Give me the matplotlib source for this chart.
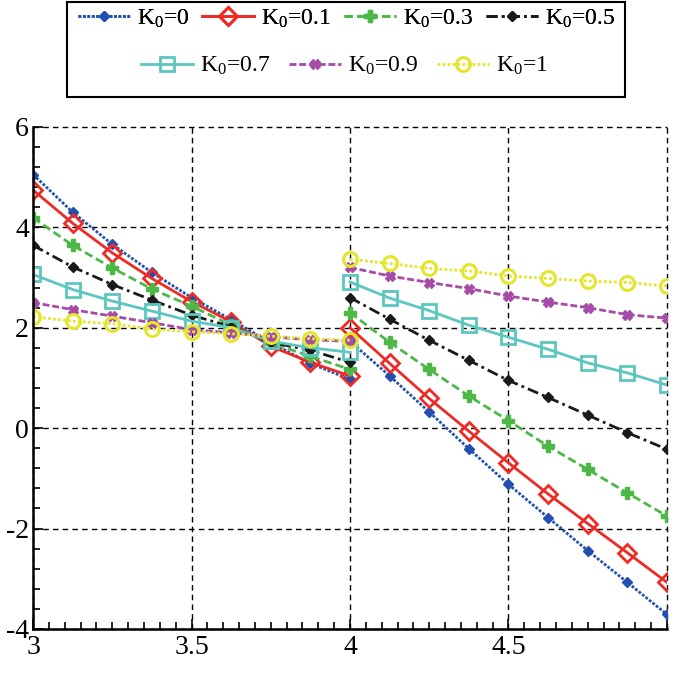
import numpy as np
import matplotlib
matplotlib.use('Agg')
import matplotlib.pyplot as plt
from matplotlib.ticker import MultipleLocator
from matplotlib.patches import Rectangle

plt.rcParams['font.family'] = ['Liberation Serif', 'DejaVu Serif']
plt.rcParams['mathtext.fontset'] = 'custom'
plt.rcParams['mathtext.rm'] = 'Liberation Serif'
plt.rcParams['mathtext.it'] = 'Liberation Serif:italic'

# x positions of the two segments
x_left = [3, 3.125, 3.25, 3.375, 3.5, 3.625, 3.75, 3.875, 4]
x_right = [4, 4.125, 4.25, 4.375, 4.5, 4.625, 4.75, 4.875, 5]

labels = ['K$_0$=0', 'K$_0$=0.1', 'K$_0$=0.3', 'K$_0$=0.5', 'K$_0$=0.7', 'K$_0$=0.9', 'K$_0$=1']

# values, left segment (3..4)
k00_left = [5.05, 4.30, 3.66, 3.10, 2.60, 2.16, 1.70, 1.29, 0.97]
k01_left = [4.74, 4.08, 3.49, 2.98, 2.52, 2.12, 1.63, 1.31, 1.04]
k03_left = [4.19, 3.64, 3.19, 2.77, 2.43, 2.05, 1.70, 1.43, 1.17]
k05_left = [3.64, 3.21, 2.86, 2.55, 2.25, 2.02, 1.71, 1.55, 1.31]
k07_left = [3.06, 2.76, 2.53, 2.33, 2.13, 2.00, 1.73, 1.60, 1.51]
k09_left = [2.50, 2.36, 2.23, 2.10, 1.96, 1.90, 1.82, 1.76, 1.73]
k10_left = [2.22, 2.13, 2.08, 1.97, 1.92, 1.88, 1.83, 1.78, 1.75]

# right segment (4..5)
k00_right = [1.73, 1.04, 0.32, -0.41, -1.12, -1.78, -2.44, -3.07, -3.71]
k01_right = [2.00, 1.29, 0.59, -0.06, -0.69, -1.31, -1.90, -2.48, -3.07]
k03_right = [2.30, 1.71, 1.17, 0.64, 0.15, -0.36, -0.82, -1.29, -1.75]
k05_right = [2.60, 2.17, 1.75, 1.35, 0.95, 0.61, 0.26, -0.09, -0.42]
k07_right = [2.91, 2.59, 2.34, 2.05, 1.81, 1.57, 1.30, 1.10, 0.86]
k09_right = [3.20, 3.03, 2.90, 2.78, 2.63, 2.51, 2.40, 2.26, 2.19]
k10_right = [3.36, 3.28, 3.18, 3.13, 3.03, 2.98, 2.93, 2.90, 2.83]

left_sets = [k00_left, k01_left, k03_left, k05_left, k07_left, k09_left, k10_left]
right_sets = [k00_right, k01_right, k03_right, k05_right, k07_right, k09_right, k10_right]

# style per series
styles = [
    dict(color='#2350b0', ls=(0, (1, 0.6)), marker='D', ms=5.5, mfc='#2350b0'),
    dict(color='#ee2a24', ls='-', marker='D', ms=9, mfc='none', mew=2),
    dict(color='#4db848', ls=(0, (3, 1.5)), marker='P', ms=8, mfc='#4db848', mec='#4db848'),
    dict(color='#1a1a1a', ls=(0, (4, 1.5, 1, 1.5)), marker='D', ms=5.5, mfc='#1a1a1a'),
    dict(color='#5cc6bf', ls='-', marker='s', ms=10, mfc='none', mew=2),
    dict(color='#a64ca6', ls=(0, (2.5, 1)), marker='X', ms=7, mfc='#a64ca6', mec='#a64ca6'),
    dict(color='#e5e52e', ls=(0, (1, 0.8)), marker='o', ms=10, mfc='none', mew=2.2),
]

fig = plt.figure(figsize=(6.75, 6.74), dpi=100)
ax = fig.add_axes([0.049, 0.0668, 0.939, 0.745])

handles = []
for lab, yl, yr, st in zip(labels, left_sets, right_sets, styles):
    h, = ax.plot(x_left, yl, lw=2, label=lab, **st)
    ax.plot(x_right, yr, lw=2, **st)
    handles.append(h)

ax.set_xlim(3, 5)
ax.set_ylim(-4, 6)
ax.set_xticks([3, 3.5, 4, 4.5, 5])
ax.set_xticklabels(['3', '3.5', '4', '4.5', ''])
ax.set_yticks([-4, -2, 0, 2, 4, 6])
ax.set_yticklabels(['-4', '-2', '0', '2', '4', '6'])
ax.xaxis.set_minor_locator(MultipleLocator(0.05))
ax.yaxis.set_minor_locator(MultipleLocator(0.4))
ax.tick_params(which='both', direction='in', labelsize=20, width=1.2)
ax.tick_params(which='major', length=7, pad=4)
ax.tick_params(which='minor', length=5)
ax.tick_params(axis='y', pad=3)
ax.grid(True, color='black', ls='--', lw=1, dashes=(4, 3))
for gl in ax.get_xgridlines() + ax.get_ygridlines():
    gl.set_clip_on(False)
ax.spines['top'].set_visible(False)
ax.spines['right'].set_visible(False)
ax.spines['left'].set_linewidth(1.8)
ax.spines['bottom'].set_linewidth(1.8)

# legend: 4 entries on top row, 3 centred below, inside one box
leg1 = fig.legend(handles[:4], labels[:4], loc='center', bbox_to_anchor=(0.513, 0.972),
                  ncol=4, frameon=False, fontsize=17, handlelength=2.2,
                  handletextpad=0.3, columnspacing=0.55)
leg2 = fig.legend(handles[4:], labels[4:], loc='center', bbox_to_anchor=(0.51, 0.902),
                  ncol=3, frameon=False, fontsize=17, handlelength=2.2,
                  handletextpad=0.3, columnspacing=0.8)
fig.add_artist(leg1)
fig.patches.append(Rectangle((0.099, 0.856), 0.827, 0.141, transform=fig.transFigure,
                             fill=False, edgecolor='black', lw=1.5))

fig.savefig('out.png', dpi=100)
